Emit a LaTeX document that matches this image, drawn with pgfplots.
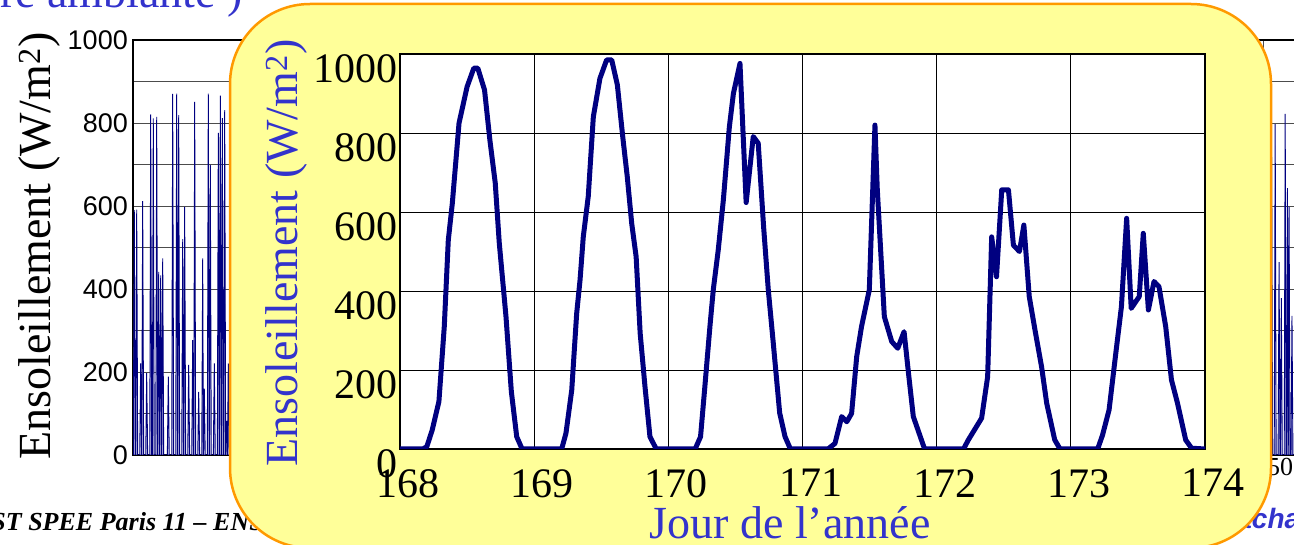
\documentclass[border=0pt]{standalone}
\usepackage{fontspec}
\setmainfont{Liberation Serif}
\newfontfamily\arialfont{Liberation Sans}
\usepackage{pgfplots}
\pgfplotsset{compat=1.18}
\definecolor{navy}{HTML}{000080}
\definecolor{titleblue}{HTML}{3333CC}
\definecolor{boxfill}{HTML}{FFFF99}
\definecolor{boxdraw}{HTML}{FF9900}
\begin{document}
\begin{tikzpicture}
\useasboundingbox (0pt,0pt) rectangle (1294pt,544pt);
\clip (0pt,0pt) rectangle (1294pt,544pt);

% background slide: title remnant
\node[anchor=base west,inner sep=0pt,text=titleblue,font=\fontsize{46}{46}\selectfont] at (0pt,536pt) {re ambiante )};

% background chart (whole year)
\begin{axis}[at={(133pt,89pt)},anchor=south west,scale only axis,
  width=1179pt,height=415pt,
  xmin=0,xmax=365,ymin=0,ymax=1000,
  xtick={50,100,...,350},ytick={0,200,...,1000},minor ytick={100,300,...,900},
  grid=both,
  major grid style={black!70,line width=0.8pt},
  minor grid style={black!70,line width=0.8pt},
  axis line style={black,line width=1.5pt},
  tick style={draw=none},
  /pgf/number format/1000 sep={},
  /pgf/number format/assume math mode=true,
  y tick label style={font=\fontsize{27}{27}\selectfont\arialfont,inner sep=0pt,anchor=east,xshift=-5pt},
  x tick label style={font=\fontsize{26}{26}\selectfont,inner sep=0pt,anchor=north,yshift=-3pt,xshift=10pt},
]
\addplot[draw=navy,line width=0.9pt,fill=navy!30] coordinates {
(0,0)(0.1,0)(0.4,590)(0.7,0)
(0.85,0)(1.15,591)(1.45,0)
(2.08,0)(2.38,221)(2.68,0)
(2.7,0)(3.0,612)(3.3,0)
(3.94,0)(4.24,197)(4.54,0)
(5.18,0)(5.48,821)(5.78,0)
(5.98,0)(6.28,811)(6.58,0)
(7.04,0)(7.34,815)(7.64,0)
(7.66,0)(7.96,441)(8.26,0)
(8.28,0)(8.58,433)(8.88,0)
(8.9,0)(9.2,474)(9.5,0)
(10.63,0)(10.93,189)(11.23,0)
(11.99,0)(12.29,870)(12.59,0)
(13.23,0)(13.53,871)(13.83,0)
(13.85,0)(14.15,819)(14.45,0)
(15.09,0)(15.39,520)(15.69,0)
(15.7,0)(16.0,598)(16.3,0)
(16.94,0)(17.24,217)(17.54,0)
(18.18,0)(18.48,277)(18.78,0)
(18.8,0)(19.1,851)(19.4,0)
(20.04,0)(20.34,152)(20.64,0)
(21.28,0)(21.58,474)(21.8,0)
(21.82,0)(22.07,160)(22.37,0)
(23.01,0)(23.31,871)(23.61,0)
(23.63,0)(23.93,699)(24.23,0)
(24.87,0)(25.17,221)(25.47,0)
(26.11,0)(26.41,776)(26.71,0)
(26.73,0)(27.03,866)(27.33,0)
(27.35,0)(27.65,812)(27.95,0)
(28.09,0)(28.39,831)(28.69,0)
(28.7,0)(29.0,82)(29.25,0)
(29.25,0)(29.5,221)(29.8,0)(31,0)
} \closedcycle;
\addplot[draw=navy,line width=0.9pt,fill=navy!30] coordinates {
(351,0)(352.2,0)(352.5,718)(352.8,0)
(353.3,0)(353.6,797)(353.9,0)
(354.5,0)(354.8,465)(355.1,0)
(355.2,0)(355.5,378)(355.8,0)
(356.4,0)(356.7,822)(357.0,0)
(357.15,0)(357.4,643)(357.65,0)
(357.65,0)(357.9,598)(358.2,0)
(358.5,0)(358.8,335)(359.1,0)(365,0)
} \closedcycle;
\end{axis}

\node[anchor=base,inner sep=0pt,rotate=90,font=\fontsize{46}{46}\selectfont] at (50pt,298pt) {Ensoleillement (W/m\textsuperscript{2})};

% footers
\node[anchor=base east,inner sep=0pt,font=\fontsize{26}{26}\selectfont\bfseries\itshape] at (264pt,14pt) {ST SPEE Paris 11 – ENS};
\node[anchor=base west,inner sep=0pt,text=titleblue,font=\fontsize{28}{28}\selectfont\arialfont\bfseries\itshape] at (1216pt,16pt) {Cachan};

% yellow call-out box
\filldraw[fill=boxfill,draw=boxdraw,line width=2.5pt,rounded corners=80pt] (230pt,-4pt) rectangle (1271pt,540pt);

% zoomed chart, days 168 to 174
\begin{axis}[at={(400pt,95pt)},anchor=south west,scale only axis,
  width=805pt,height=395pt,
  xmin=168,xmax=174,ymin=0,ymax=1000,
  xtick={168,...,174},ytick={0,200,...,1000},
  grid=major,
  major grid style={black,line width=0.9pt},
  axis line style={black,line width=1.5pt},
  axis background/.style={fill=white},
  tick style={draw=none},
  /pgf/number format/1000 sep={},
  /pgf/number format/assume math mode=true,
  y tick label style={font=\fontsize{42}{42}\selectfont,inner sep=0pt,anchor=north east,xshift=-2pt},
  x tick label style={font=\fontsize{42}{42}\selectfont,inner sep=0pt,anchor=north,yshift=-20pt,xshift=8pt},
]
\addplot[color=navy,line width=5pt,line join=round] coordinates {
(168,0)(168.17,0)(168.2,6)(168.24,48)(168.29,120)(168.33,310)(168.36,529)(168.39,622)
(168.44,825)(168.5,917)(168.55,964)(168.58,964)(168.63,909)(168.67,782)(168.71,673)
(168.74,521)(168.79,335)(168.83,145)(168.87,31)(168.91,0)
(169.205,0)(169.237,40)(169.28,149)(169.317,344)(169.342,428)(169.366,537)(169.403,639)
(169.441,841)(169.49,938)(169.54,985)(169.578,985)(169.62,922)(169.66,791)(169.694,689)
(169.727,571)(169.76,487)(169.79,293)(169.826,158)(169.863,31)(169.91,0)
(170.2,0)(170.24,31)(170.27,149)(170.31,310)(170.335,403)(170.372,504)(170.41,630)
(170.455,816)(170.485,900)(170.534,976)(170.58,624)(170.633,791)(170.67,774)(170.71,563)
(170.745,403)(170.78,276)(170.83,91)(170.87,31)(170.91,0)
(171.19,0)(171.242,14)(171.292,82)(171.33,69)(171.366,90)(171.404,234)(171.44,310)
(171.498,403)(171.54,820)(171.557,660)(171.61,335)(171.665,272)(171.71,255)(171.757,297)
(171.79,192)(171.826,82)(171.91,0)
(172.2,0)(172.236,23)(172.335,78)(172.38,183)(172.41,537)(172.446,436)(172.485,656)
(172.535,656)(172.572,516)(172.617,500)(172.65,567)(172.69,386)(172.733,301)(172.782,208)
(172.82,116)(172.88,23)(172.92,0)
(173.2,0)(173.236,35)(173.285,99)(173.335,242)(173.377,360)(173.416,584)(173.45,356)
(173.51,386)(173.54,546)(173.578,352)(173.62,424)(173.657,411)(173.707,310)(173.75,175)
(173.795,116)(173.856,23)(173.9,2)(174,0)
};
\end{axis}

\node[anchor=base,inner sep=0pt,rotate=90,text=titleblue,font=\fontsize{46}{46}\selectfont] at (297pt,291pt) {Ensoleillement (W/m\textsuperscript{2})};
\node[anchor=base,inner sep=0pt,text=titleblue,font=\fontsize{46}{46}\selectfont] at (790pt,6pt) {Jour de l’année};
\end{tikzpicture}
\end{document}
